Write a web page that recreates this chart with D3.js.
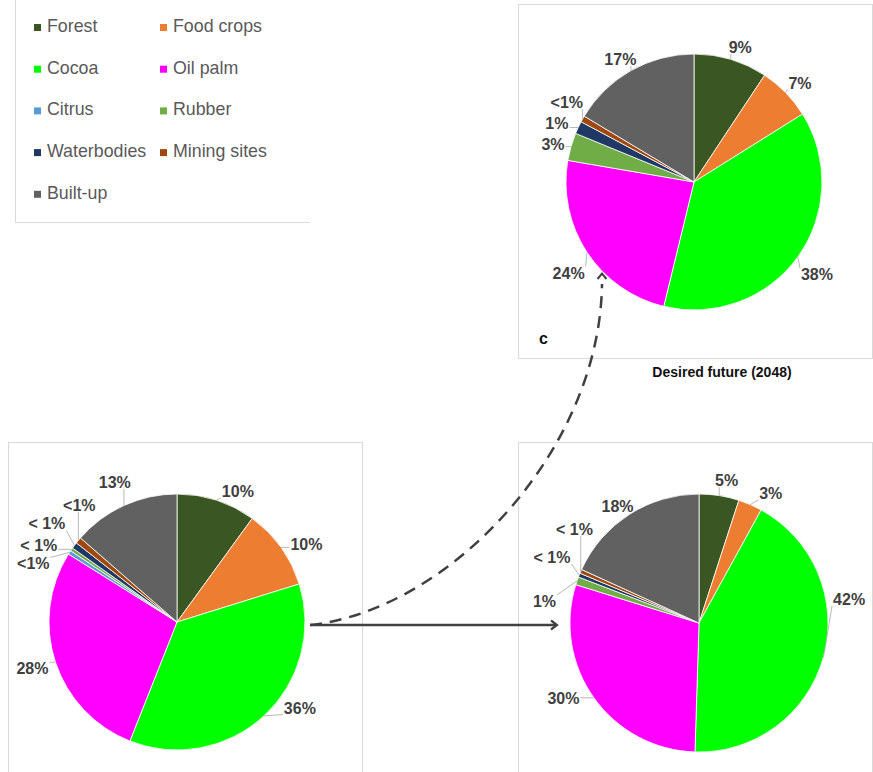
<!DOCTYPE html>
<html>
<head>
  <meta charset="utf-8">
  <script src="https://d3js.org/d3.v7.min.js"></script>
  <style>
    body { margin: 0; background: #fff; }
    text { font-family: "Liberation Sans", Arial, sans-serif; }
  </style>
</head>
<body>
<script>
  // Land use categories and colours
  var categories = ["Forest", "Food crops", "Cocoa", "Oil palm", "Citrus",
                    "Rubber", "Waterbodies", "Mining sites", "Built-up"];
  var colors = ["#3a5723", "#ed7d31", "#00ff00", "#ff00ff", "#5b9bd5",
                "#70ad47", "#1f3864", "#9e480e", "#616161"];

  // Shares (%)
  var currentShares = [10.0, 10.2, 35.8, 27.9, 0.5, 0.4, 0.8, 0.8, 13.6];
  var currentLabels = ["10%", "10%", "36%", "28%", "<1%", "< 1%", "< 1%", "<1%", "13%"];

  var bauShares = [5.0, 3.0, 42.5, 29.3, 0, 1.0, 0.5, 0.5, 18.2];
  var bauLabels = ["5%", "3%", "42%", "30%", "", "1%", "< 1%", "< 1%", "18%"];

  var desiredShares = [9.3, 6.8, 37.7, 23.9, 0, 3.5, 1.6, 0.8, 16.4];
  var desiredLabels = ["9%", "7%", "38%", "24%", "", "3%", "1%", "<1%", "17%"];

  // label placement (angle in degrees clockwise from 12 o'clock, distance from centre)
  var labelPosCurrent = [[25, 144], [59, 151], [125, 150], [252, 152], [292, 155],
                         [299, 158], [307, 163], [320, 152], [336, 153]];
  var labelPosBau = [[11, 145], [29, 148], [81, 152], [241, 155], null,
                     [278, 156], [294, 161], [307, 156], [325, 142]];
  var labelPosDesired = [[19, 142], [47, 145], [127, 154], [234, 155], null,
                         [285, 146], [293, 149], [302, 150], [329, 143]];

  var width = 873, height = 772;
  var svg = d3.select("body").append("svg")
      .attr("width", width)
      .attr("height", height);

  // panel frames
  var frame = "#d9d9d9";
  svg.append("line").attr("x1", 15.5).attr("y1", 0).attr("x2", 15.5).attr("y2", 222.5)
     .attr("stroke", frame);
  svg.append("line").attr("x1", 15.5).attr("y1", 222.5).attr("x2", 310).attr("y2", 222.5)
     .attr("stroke", frame);
  [[518.5, 4.5, 354, 354], [8.5, 442.5, 354, 360], [518.5, 442.5, 354, 360]].forEach(function(b) {
    svg.append("rect").attr("x", b[0]).attr("y", b[1]).attr("width", b[2]).attr("height", b[3])
       .attr("fill", "none").attr("stroke", frame);
  });

  // legend
  var legend = svg.append("g");
  categories.forEach(function(c, i) {
    var col = i % 2, row = Math.floor(i / 2);
    var lx = col === 0 ? 34 : 160;
    var ly = 32 + row * 41.7;
    legend.append("rect").attr("x", lx).attr("y", ly - 8).attr("width", 7).attr("height", 7)
          .attr("fill", colors[i]);
    legend.append("text").attr("x", lx + 13).attr("y", ly)
          .style("font-size", "17.8px").attr("fill", "#595959").text(c);
  });

  // arrows
  var ink = "#404040";
  svg.append("line").attr("x1", 310).attr("y1", 625).attr("x2", 556).attr("y2", 625)
     .attr("stroke", ink).attr("stroke-width", 2.5);
  svg.append("polyline").attr("points", "551,620.5 557,625 551,629.5")
     .attr("fill", "none").attr("stroke", ink).attr("stroke-width", 2.2);
  svg.append("path").attr("d", "M310,625 C450,610 600,450 602,284")
     .attr("fill", "none").attr("stroke", ink).attr("stroke-width", 2.5)
     .attr("stroke-dasharray", "12,8");
  svg.append("polyline").attr("points", "597.5,279 602,273.5 606.5,279")
     .attr("fill", "none").attr("stroke", ink).attr("stroke-width", 2);

  function drawPie(cx, cy, r, shares, labels, labelPos) {
    var g = svg.append("g").attr("transform", "translate(" + cx + "," + cy + ")");
    var pie = d3.pie().sort(null).value(function(d) { return d.v; });
    var rows = shares.map(function(v, i) { return {v: v, i: i}; });
    var arcs = pie(rows);
    var arc = d3.arc().innerRadius(0).outerRadius(r);

    g.selectAll("path.slice")
      .data(arcs.filter(function(a) { return a.data.v > 0; }))
      .enter().append("path")
      .attr("class", "slice")
      .attr("d", arc)
      .attr("fill", function(a) { return colors[a.data.i]; })
      .attr("stroke", "#ffffff")
      .attr("stroke-width", 0.8);

    arcs.forEach(function(a) {
      var i = a.data.i;
      if (!labels[i] || !labelPos[i]) return;
      var ang = labelPos[i][0] * Math.PI / 180, dist = labelPos[i][1];
      var lx = Math.sin(ang) * dist, ly = -Math.cos(ang) * dist;
      var t = g.append("text")
        .attr("x", lx).attr("y", ly)
        .attr("text-anchor", "middle")
        .attr("dominant-baseline", "central")
        .style("font-size", "16px").style("font-weight", "bold")
        .attr("fill", "#404040")
        .text(labels[i]);
      var bb = t.node().getBBox();
      // leader line from slice edge to nearest point of label box
      var mid = (a.startAngle + a.endAngle) / 2;
      var px = Math.sin(mid) * r, py = -Math.cos(mid) * r;
      var x0 = bb.x - 1, x1 = bb.x + bb.width + 1, y0 = bb.y + 2, y1 = bb.y + bb.height - 2;
      var qx = Math.max(x0, Math.min(x1, px)), qy = Math.max(y0, Math.min(y1, py));
      if (Math.hypot(qx - px, qy - py) > 3) {
        g.insert("line", "text")
          .attr("x1", px).attr("y1", py).attr("x2", qx).attr("y2", qy)
          .attr("stroke", "#a6a6a6").attr("stroke-width", 0.8);
      }
    });
  }

  drawPie(694, 182, 128, desiredShares, desiredLabels, labelPosDesired);
  drawPie(177, 622, 128, currentShares, currentLabels, labelPosCurrent);
  drawPie(699, 623, 129, bauShares, bauLabels, labelPosBau);

  // panel captions
  svg.append("text").attr("x", 539).attr("y", 344)
     .style("font-size", "16px").style("font-weight", "bold").attr("fill", "#111")
     .text("c");
  svg.append("text").attr("x", 722).attr("y", 377).attr("text-anchor", "middle")
     .style("font-size", "14px").style("font-weight", "bold").attr("fill", "#111")
     .text("Desired future (2048)");
</script>
</body>
</html>
